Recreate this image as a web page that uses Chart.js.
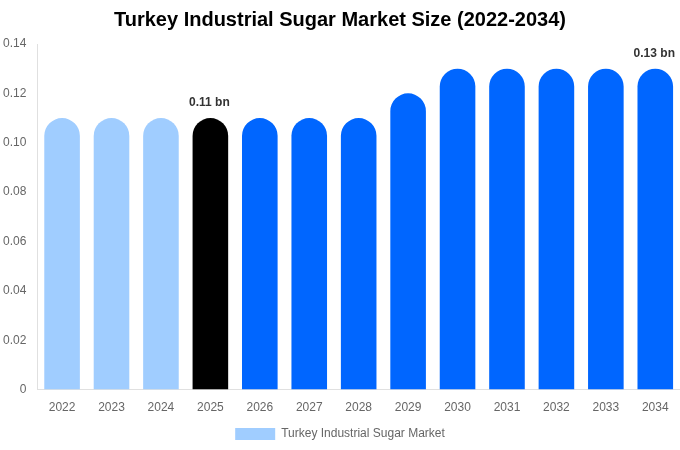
<!DOCTYPE html>
<html><head><meta charset="utf-8">
<script src="https://cdn.jsdelivr.net/npm/chart.js@4/dist/chart.umd.min.js"></script>
<style>html,body{margin:0;padding:0;background:#fff}#wrap{width:680px;height:450px}</style>
</head><body><div id="wrap"><canvas id="c"></canvas></div>
<script>
const categories = ["2022","2023","2024","2025","2026","2027","2028","2029","2030","2031","2032","2033","2034"];
const values = [0.11,0.11,0.11,0.11,0.11,0.11,0.11,0.12,0.13,0.13,0.13,0.13,0.13];
const barColors = ["#a0cdff","#a0cdff","#a0cdff","#000000","#0066ff","#0066ff","#0066ff","#0066ff","#0066ff","#0066ff","#0066ff","#0066ff","#0066ff"];
const labelled = {3:"0.11 bn",12:"0.13 bn"};
const seriesName = "Turkey Industrial Sugar Market";

const labelPlugin = {
  id:'lbl',
  afterDatasetsDraw(chart){
    const ctx = chart.ctx;
    const meta = chart.getDatasetMeta(0);
    ctx.save();
    ctx.font = 'bold 12px "Liberation Sans", Arial, sans-serif';
    ctx.fillStyle = '#333';
    ctx.textAlign = 'center';
    ctx.textBaseline = 'bottom';
    for (const k in labelled){
      const el = meta.data[k];
      ctx.fillText(labelled[k], el.x - 1, el.y - 9);
    }
    ctx.restore();
  }
};

new Chart(document.getElementById('c'), {
  type:'bar',
  data:{labels:categories, datasets:[{label:seriesName, data:values, backgroundColor:barColors, borderRadius:{topLeft:18,topRight:18}, borderSkipped:'bottom'}]},
  options:{
    responsive:true, maintainAspectRatio:false, animation:false,
    layout:{padding:{left:0,right:0,top:0,bottom:0}},
    plugins:{
      title:{display:true, text:'Turkey Industrial Sugar Market Size (2022-2034)', color:'#000', font:{family:'"Liberation Sans", Arial, sans-serif', size:20, weight:'bold'}, padding:{top:8,bottom:12}},
      legend:{position:'bottom', labels:{color:'#666', font:{family:'"Liberation Sans", Arial, sans-serif', size:12}, boxWidth:40, boxHeight:12, generateLabels(){return [{text:seriesName, fillStyle:'#a0cdff', strokeStyle:'#a0cdff', lineWidth:0, fontColor:'#666'}];}}},
      tooltip:{enabled:false}
    },
    scales:{
      x:{grid:{display:false}, border:{color:'#e0e0e0'}, ticks:{color:'#666', font:{family:'"Liberation Sans", Arial, sans-serif', size:12}}},
      y:{min:0, max:0.14, grid:{display:false}, border:{color:'#e0e0e0'}, ticks:{stepSize:0.02, color:'#666', font:{family:'"Liberation Sans", Arial, sans-serif', size:12}, callback:v=> v===0 ? '0' : v.toFixed(2)}}
    }
  },
  plugins:[labelPlugin]
});
</script></body></html>
